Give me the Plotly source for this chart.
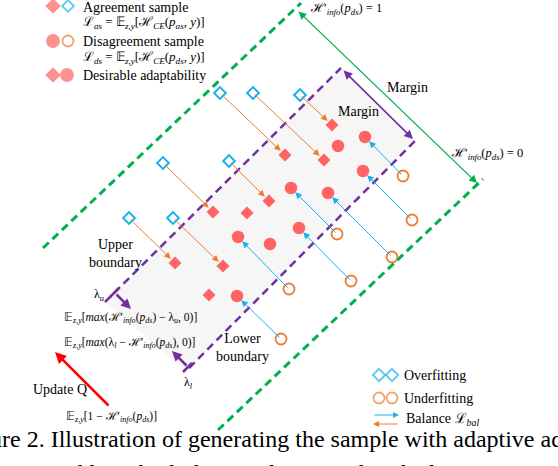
import plotly.graph_objects as go

W, H = 558, 466

# ---- data (pixel-space diagram coordinates) ----
agree_x = [220, 253, 300, 163, 229, 129, 173]          # overfitting agreement samples (open diamonds)
agree_y = [93, 93, 95, 163, 161, 218, 218]
adapt_dia_x = [285, 324, 332, 213, 269, 175, 223, 247, 209]   # desirable (filled diamonds)
adapt_dia_y = [155, 160, 125, 212, 201, 263, 266, 213, 295]
disagree_x = [403, 412, 337, 392, 351, 289, 281]       # underfitting disagreement samples (open circles)
disagree_y = [176, 220, 234, 257, 281, 289, 339]
adapt_cir_x = [365, 363, 291, 328, 299, 238, 237, 338, 270]   # desirable (filled circles)
adapt_cir_y = [137, 171, 188, 193, 228, 237, 296, 146, 244]

RED = "#ff6363"
BLUE = "#1ab0ee"
ORANGE = "#ed7d31"
GREEN = "#00b050"
PURPLE = "#7030a0"
SERIF = "Liberation Serif, Times New Roman, serif"

fig = go.Figure()

shapes = []
# shaded band between the boundaries
shapes.append(dict(type="path", path="M105,302 L341,68 L415,141 L186,371 Z",
                   fillcolor="#f6f6f6", line=dict(width=0), layer="below"))
# outer green dashed lines
shapes.append(dict(type="line", x0=43, y0=248, x1=301, y1=3,
                   line=dict(color=GREEN, width=3, dash="8px,5px")))
shapes.append(dict(type="line", x0=218, y0=430, x1=483, y1=179,
                   line=dict(color=GREEN, width=3, dash="8px,5px")))
# purple dashed boundaries
shapes.append(dict(type="line", x0=105, y0=302, x1=341, y1=68,
                   line=dict(color=PURPLE, width=2.5, dash="8px,5px")))
shapes.append(dict(type="line", x0=189, y0=368, x1=415, y1=141,
                   line=dict(color=PURPLE, width=2.5, dash="8px,5px")))
# lambda ticks
shapes.append(dict(type="line", x0=110, y0=297, x1=119, y1=288,
                   line=dict(color=PURPLE, width=2.5)))
shapes.append(dict(type="line", x0=183, y0=372, x1=192, y1=363,
                   line=dict(color=PURPLE, width=2.5)))

anns = []

def arrow(x0, y0, x1, y1, color, width=1, head=2, size=1, standoff=0, both=False):
    d = dict(x=x1, y=y1, ax=x0, ay=y0, xref="x", yref="y", axref="x", ayref="y",
             text="", showarrow=True, arrowhead=head, arrowsize=size,
             arrowwidth=width, arrowcolor=color, standoff=standoff)
    if both:
        d.update(arrowside="end+start", startarrowhead=head, startarrowsize=size)
    anns.append(d)

# balance arrows
for i in range(len(agree_x)):
    arrow(agree_x[i], agree_y[i], adapt_dia_x[i], adapt_dia_y[i], ORANGE, 1, 2, 1.3, 6)
for i in range(len(disagree_x)):
    arrow(disagree_x[i], disagree_y[i], adapt_cir_x[i], adapt_cir_y[i], BLUE, 1, 2, 1.3, 6)

# margins
arrow(297, 10, 477, 183, GREEN, 1.3, 2, 1.2, 0, both=True)
arrow(342, 69, 413, 139, PURPLE, 1.6, 2, 1.1, 0, both=True)
# lambda arrows
arrow(115, 293, 131, 309, PURPLE, 2.5, 2, 0.8)
arrow(188, 367, 172, 351, PURPLE, 2.5, 2, 0.8)
# update Q arrow
arrow(110, 407, 55, 352, "#ff0000", 2.5, 2, 0.9)
# legend arrows
arrow(373, 415, 399, 415, BLUE, 1, 2, 1.2)
arrow(399, 424, 373, 424, ORANGE, 1, 2, 1.2)

def txt(x, y, s, size=14, anchor="left"):
    anns.append(dict(x=x, y=y, xref="x", yref="y", text=s, showarrow=False,
                     xanchor=anchor, yanchor="middle",
                     font=dict(family=SERIF, size=size, color="black")))

E = "𝔼"
Hi = "ℋ′<sub><i>info</i></sub>(<i>p</i><sub><i>ds</i></sub>)"

txt(81, 7, "Agreement sample")
txt(81, 22, "ℒ<sub><i>as</i></sub> = " + E + "<sub><i>z,y</i></sub>[ℋ<sub><i>CE</i></sub>(<i>p</i><sub><i>as</i></sub>, <i>y</i>)]", 13)
txt(81, 41, "Disagreement sample")
txt(81, 57, "ℒ<sub><i>ds</i></sub> = " + E + "<sub><i>z,y</i></sub>[ℋ<sub><i>CE</i></sub>(<i>p</i><sub><i>ds</i></sub>, <i>y</i>)]", 13)
txt(81, 75, "Desirable adaptability")

txt(308, 9, Hi + " = 1", 12.5)
txt(449, 154, Hi + " = 0", 12.5)
txt(385, 87, "Margin")
txt(336, 111, "Margin")

txt(115, 253, "Upper<br>boundary", 14, "center")
txt(242, 347, "Lower<br>boundary", 14, "center")
txt(99, 295, "λ<sub><i>u</i></sub>", 12, "center")
txt(188, 383, "λ<sub><i>l</i></sub>", 12, "center")
txt(62, 318, E + "<sub><i>z,y</i></sub>[<i>max</i>(" + Hi + " − λ<sub><i>u</i></sub>, 0)]", 11.5)
txt(62, 343, E + "<sub><i>z,y</i></sub>[<i>max</i>(λ<sub><i>l</i></sub> − " + Hi + ", 0)]", 11.5)
txt(60, 389, "Update Q", 14, "center")
txt(64, 417, E + "<sub><i>z,y</i></sub>[1 − " + Hi + "]", 11.5)

txt(402, 375, "Overfitting")
txt(402, 398, "Underfitting")
txt(404, 419, "Balance ℒ<sub><i>bal</i></sub>")

# caption (cut by the page edges)
anns.append(dict(x=-44 / W, y=439, xref="paper", yref="y", showarrow=False,
                 xanchor="left", yanchor="middle",
                 text="Figure 2. Illustration of generating the sample with adaptive adjustment",
                 font=dict(family=SERIF, size=24, color="black")))
anns.append(dict(x=-20 / W, y=-7 / H, xref="paper", yref="paper", showarrow=False,
                 xanchor="left", yanchor="middle",
                 text="ment to address both the overfitting and underfitting issues",
                 font=dict(family=SERIF, size=24, color="black")))

# ---- markers ----
fig.add_trace(go.Scatter(x=agree_x, y=agree_y, mode="markers",
                         marker=dict(symbol="diamond-open", size=9, color=BLUE, line=dict(width=2, color=BLUE))))
fig.add_trace(go.Scatter(x=adapt_dia_x, y=adapt_dia_y, mode="markers",
                         marker=dict(symbol="diamond", size=10, color=RED)))
fig.add_trace(go.Scatter(x=disagree_x, y=disagree_y, mode="markers",
                         marker=dict(symbol="circle-open", size=11, color=ORANGE, line=dict(width=1.8, color=ORANGE))))
fig.add_trace(go.Scatter(x=adapt_cir_x, y=adapt_cir_y, mode="markers",
                         marker=dict(symbol="circle", size=12.5, color=RED)))

# legend glyphs
leg_x = [53, 68, 53, 68, 53, 67, 379, 392, 379, 392]
leg_y = [6, 6, 41, 41, 75, 75, 375, 375, 398, 398]
leg_sym = ["diamond", "diamond-open", "circle", "circle-open", "diamond", "circle",
           "diamond-open", "diamond-open", "circle-open", "circle-open"]
leg_col = [RED, BLUE, RED, ORANGE, RED, RED, BLUE, BLUE, ORANGE, ORANGE]
leg_size = [10, 9, 12, 11, 10, 12, 9.5, 9.5, 11, 11]
fig.add_trace(go.Scatter(x=leg_x, y=leg_y, mode="markers",
                         marker=dict(symbol=leg_sym, size=leg_size, color=leg_col,
                                     line=dict(width=1.8, color=leg_col))))

fig.update_layout(
    width=W, height=H, autosize=False,
    margin=dict(l=0, r=0, t=0, b=0),
    paper_bgcolor="white", plot_bgcolor="white",
    showlegend=False,
    xaxis=dict(range=[0, W], visible=False, fixedrange=True),
    yaxis=dict(range=[H, 0], visible=False, fixedrange=True),
    shapes=shapes, annotations=anns,
)

fig.write_html("out.html", config={"displayModeBar": False},
               post_script="document.body.style.margin='0px';document.body.style.overflow='hidden';")
